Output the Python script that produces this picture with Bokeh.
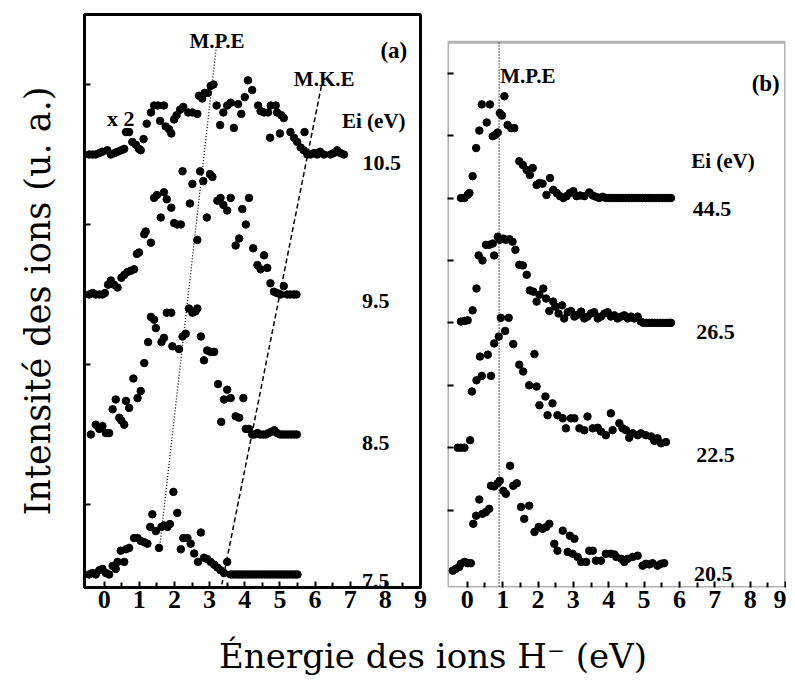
import numpy as np
from bokeh.plotting import figure
from bokeh.models import Range1d, FixedTicker, Label, BoxAnnotation
from bokeh.layouts import row, column
from bokeh.embed import file_html
from bokeh.resources import INLINE

# ---------------- data ----------------
# ion energy (eV) and intensity above each curve's own baseline (arb. units)
# Panel (a): Ei = 10.5 (x2), 9.5, 8.5, 7.5 eV
a105_x = [-0.43, -0.33, -0.24, -0.14, -0.05, 0.09, 0.19, 0.30, 0.38, 0.49,
          0.57, 0.62, 0.71, 0.80, 0.90, 0.99, 1.04, 1.12, 1.21, 1.33,
          1.42, 1.53, 1.59, 1.70, 1.75, 1.85, 1.91, 1.99, 2.06, 2.16,
          2.25, 2.39, 2.51, 2.65, 2.70, 2.79, 2.86, 2.95, 3.03, 3.11,
          3.20, 3.30, 3.39, 3.50, 3.60, 3.69, 3.81, 3.90, 4.00, 4.09,
          4.21, 4.38, 4.45, 4.55, 4.66, 4.72, 4.74, 4.88, 4.92, 5.00,
          5.04, 5.11, 5.30, 5.40, 5.49, 5.59, 5.68, 5.70, 5.78, 5.87,
          5.97, 6.06, 6.14, 6.25, 6.44, 6.53, 6.63, 6.72, 6.82]
a105_y = [0.00, 0.00, 0.00, 0.01, 0.02, 0.03, 0.00, 0.01, 0.02, 0.03,
          0.04, 0.16, 0.16, 0.09, 0.07, 0.04, 0.03, 0.11, 0.22, 0.30,
          0.35, 0.35, 0.24, 0.35, 0.20, 0.18, 0.15, 0.25, 0.28, 0.32,
          0.34, 0.30, 0.30, 0.29, 0.42, 0.40, 0.44, 0.44, 0.49, 0.50,
          0.35, 0.21, 0.30, 0.35, 0.37, 0.19, 0.36, 0.29, 0.41, 0.53,
          0.46, 0.35, 0.31, 0.30, 0.30, 0.12, 0.35, 0.35, 0.30, 0.15,
          0.28, 0.26, 0.16, 0.12, 0.09, 0.05, 0.03, 0.16, 0.00, 0.00,
          0.01, 0.00, 0.02, 0.00, 0.00, 0.01, 0.03, 0.01, 0.00]

a95_x = [-0.43, -0.33, -0.24, -0.14, -0.05, 0.02, 0.11, 0.19, 0.28, 0.38,
         0.49, 0.57, 0.66, 0.76, 0.85, 0.93, 0.99, 1.14, 1.18, 1.33,
         1.42, 1.50, 1.61, 1.70, 1.78, 1.91, 1.99, 2.08, 2.18, 2.23,
         2.44, 2.51, 2.65, 2.73, 2.82, 2.92, 3.01, 3.08, 3.22, 3.31,
         3.39, 3.50, 3.60, 3.74, 3.84, 3.93, 4.03, 4.12, 4.24, 4.36,
         4.45, 4.55, 4.64, 4.73, 4.83, 4.92, 5.02, 5.11, 5.21, 5.30,
         5.40, 5.47]
a95_y = [0.00, 0.01, 0.00, 0.00, 0.00, 0.01, 0.07, 0.10, 0.07, 0.05,
         0.12, 0.14, 0.16, 0.17, 0.18, 0.29, 0.30, 0.43, 0.45, 0.37,
         0.69, 0.71, 0.55, 0.73, 0.68, 0.62, 0.51, 0.50, 0.50, 0.88,
         0.65, 0.79, 0.39, 0.88, 0.81, 0.55, 0.86, 0.84, 0.67, 0.69,
         0.64, 0.60, 0.69, 0.35, 0.40, 0.61, 0.50, 0.69, 0.33, 0.21,
         0.18, 0.28, 0.19, 0.08, 0.02, 0.01, 0.00, 0.06, 0.00, 0.00,
         0.00, 0.00]

a85_x = [-0.38, -0.24, -0.14, -0.05, 0.05, 0.14, 0.24, 0.33, 0.43, 0.49,
         0.57, 0.62, 0.71, 0.83, 0.95, 1.04, 1.14, 1.25, 1.33, 1.42,
         1.47, 1.63, 1.70, 1.78, 1.91, 1.94, 2.13, 2.23, 2.32, 2.41,
         2.51, 2.60, 2.65, 2.75, 2.84, 2.93, 3.03, 3.13, 3.24, 3.33,
         3.41, 3.50, 3.60, 3.74, 3.84, 3.96, 4.03, 4.12, 4.21, 4.28,
         4.36, 4.44, 4.52, 4.60, 4.68, 4.76, 4.84, 4.92, 5.00, 5.08,
         5.16, 5.24, 5.32, 5.40, 5.48]
a85_y = [0.00, 0.07, 0.04, 0.06, 0.01, 0.01, 0.18, 0.25, 0.12, 0.10,
         0.07, 0.24, 0.19, 0.40, 0.26, 0.31, 0.51, 0.66, 0.84, 0.82,
         0.76, 0.66, 0.69, 0.87, 0.87, 0.63, 0.61, 0.70, 0.72, 0.90,
         0.87, 0.88, 0.90, 0.70, 0.53, 0.60, 0.59, 0.59, 0.36, 0.09,
         0.25, 0.32, 0.26, 0.13, 0.12, 0.26, 0.04, 0.04, 0.00, 0.00,
         0.01, 0.00, 0.00, 0.00, 0.01, 0.02, 0.03, 0.01, 0.00, 0.00,
         0.00, 0.00, 0.00, 0.00, 0.00]

a75_x = [-0.43, -0.33, -0.24, -0.14, -0.05, 0.05, 0.14, 0.24, 0.33, 0.38,
         0.47, 0.57, 0.62, 0.71, 0.85, 0.95, 1.04, 1.14, 1.23, 1.31,
         1.37, 1.47, 1.56, 1.63, 1.70, 1.80, 1.87, 1.97, 2.08, 2.18,
         2.25, 2.37, 2.46, 2.56, 2.67, 2.75, 2.84, 2.93, 3.03, 3.13,
         3.22, 3.31, 3.41, 3.50, 3.60, 3.68, 3.76, 3.84, 3.92, 4.00,
         4.08, 4.16, 4.24, 4.32, 4.40, 4.48, 4.56, 4.64, 4.72, 4.80,
         4.88, 4.96, 5.04, 5.12, 5.20, 5.28, 5.36, 5.44, 5.50]
a75_y = [0.00, 0.01, 0.00, 0.03, 0.04, 0.01, 0.00, 0.06, 0.04, 0.09,
         0.17, 0.09, 0.18, 0.19, 0.26, 0.26, 0.24, 0.23, 0.22, 0.34,
         0.43, 0.31, 0.19, 0.34, 0.35, 0.34, 0.36, 0.59, 0.44, 0.18,
         0.26, 0.26, 0.22, 0.15, 0.09, 0.30, 0.12, 0.11, 0.09, 0.07,
         0.05, 0.03, 0.01, 0.09, 0.00, 0.00, 0.00, 0.00, 0.00, 0.00,
         0.00, 0.00, 0.00, 0.00, 0.00, 0.00, 0.00, 0.00, 0.00, 0.00,
         0.00, 0.00, 0.00, 0.00, 0.00, 0.00, 0.00, 0.00, 0.00]

# Panel (b): Ei = 44.5, 26.5, 22.5, 20.5 eV
b445_x = [-0.18, -0.08, 0.01, 0.06, 0.15, 0.25, 0.34, 0.41, 0.55, 0.64,
          0.72, 0.79, 0.86, 0.92, 0.98, 1.05, 1.14, 1.24, 1.33, 1.47,
          1.57, 1.68, 1.77, 1.85, 1.96, 2.04, 2.13, 2.24, 2.34, 2.43,
          2.53, 2.62, 2.72, 2.81, 2.90, 3.00, 3.09, 3.19, 3.31, 3.45,
          3.55, 3.64, 3.73, 3.83, 3.92, 4.00, 4.08, 4.16, 4.24, 4.32,
          4.40, 4.48, 4.56, 4.64, 4.72, 4.80, 4.88, 4.96, 5.04, 5.12,
          5.20, 5.28, 5.36, 5.44, 5.52, 5.60, 5.68, 5.76]
b445_y = [0.00, 0.00, 0.05, 0.08, 0.35, 0.80, 1.08, 1.50, 1.21, 1.50,
          0.99, 1.01, 1.05, 1.36, 1.32, 1.63, 1.17, 1.12, 1.12, 0.59,
          0.53, 0.45, 0.37, 0.48, 0.21, 0.24, 0.23, 0.05, 0.32, 0.13,
          0.08, 0.03, 0.00, 0.03, 0.08, 0.11, 0.03, 0.04, 0.03, 0.09,
          0.04, 0.02, 0.00, 0.02, 0.00, 0.00, 0.00, 0.00, 0.00, 0.00,
          0.00, 0.00, 0.00, 0.00, 0.00, 0.00, 0.00, 0.00, 0.00, 0.00,
          0.00, 0.00, 0.00, 0.00, 0.00, 0.00, 0.00, 0.00]

b265_x = [-0.18, -0.08, 0.01, 0.15, 0.26, 0.32, 0.43, 0.53, 0.62, 0.72,
          0.76, 0.86, 0.92, 1.02, 1.09, 1.19, 1.28, 1.36, 1.47, 1.57,
          1.68, 1.77, 1.87, 1.96, 2.04, 2.15, 2.23, 2.32, 2.43, 2.49,
          2.58, 2.68, 2.74, 2.84, 2.93, 3.03, 3.12, 3.22, 3.31, 3.40,
          3.50, 3.59, 3.69, 3.78, 3.88, 3.97, 4.06, 4.16, 4.25, 4.35,
          4.44, 4.54, 4.63, 4.72, 4.82, 4.91, 4.98, 5.06, 5.14, 5.22,
          5.30, 5.38, 5.46, 5.54, 5.62, 5.70, 5.76]
b265_y = [0.02, 0.03, 0.04, 0.20, 0.55, 1.08, 1.00, 1.25, 1.25, 1.27,
          1.08, 1.38, 1.33, 1.35, 1.33, 1.34, 1.30, 1.17, 0.93, 0.92,
          0.77, 0.52, 0.50, 0.34, 0.45, 0.55, 0.39, 0.19, 0.34, 0.26,
          0.15, 0.28, 0.07, 0.17, 0.19, 0.10, 0.13, 0.18, 0.07, 0.10,
          0.15, 0.17, 0.07, 0.10, 0.15, 0.17, 0.10, 0.12, 0.07, 0.10,
          0.12, 0.07, 0.10, 0.07, 0.10, 0.02, 0.00, 0.00, 0.00, 0.00,
          0.00, 0.00, 0.00, 0.00, 0.00, 0.00, 0.00]

b225_x = [-0.27, -0.18, -0.08, 0.08, 0.13, 0.26, 0.36, 0.41, 0.58, 0.67,
          0.76, 0.89, 0.95, 1.07, 1.17, 1.30, 1.47, 1.58, 1.75, 1.90,
          1.96, 2.04, 2.21, 2.27, 2.41, 2.55, 2.70, 2.79, 2.93, 3.03,
          3.17, 3.31, 3.40, 3.55, 3.69, 3.78, 3.92, 4.06, 4.11, 4.30,
          4.39, 4.49, 4.58, 4.68, 4.82, 4.91, 5.05, 5.20, 5.29, 5.38,
          5.48, 5.62]
b225_y = [0.00, 0.00, 0.00, 0.12, 0.90, 1.08, 1.46, 1.15, 1.49, 1.15,
          1.67, 1.78, 2.08, 1.87, 2.08, 1.66, 1.33, 1.22, 1.00, 1.50,
          0.98, 0.68, 0.82, 0.52, 0.71, 0.52, 0.47, 0.31, 0.47, 0.47,
          0.31, 0.28, 0.50, 0.31, 0.32, 0.26, 0.20, 0.55, 0.28, 0.39,
          0.31, 0.28, 0.16, 0.23, 0.20, 0.23, 0.20, 0.18, 0.11, 0.15,
          0.07, 0.09]

b205_x = [-0.41, -0.32, -0.23, -0.18, -0.08, 0.01, 0.10, 0.17, 0.25, 0.34,
          0.43, 0.53, 0.62, 0.67, 0.76, 0.86, 0.92, 1.02, 1.09, 1.21,
          1.30, 1.40, 1.52, 1.61, 1.75, 1.90, 2.02, 2.13, 2.23, 2.32,
          2.46, 2.55, 2.70, 2.84, 2.90, 2.98, 3.03, 3.12, 3.22, 3.36,
          3.45, 3.55, 3.64, 3.78, 3.92, 4.06, 4.16, 4.21, 4.35, 4.44,
          4.54, 4.68, 4.82, 4.96, 5.05, 5.15, 5.24, 5.38, 5.48, 5.57]
b205_y = [0.03, 0.06, 0.09, 0.14, 0.17, 0.15, 0.15, 0.78, 0.91, 1.17,
          0.94, 0.97, 1.02, 1.39, 1.38, 1.43, 1.47, 1.31, 1.26, 1.71,
          1.39, 1.43, 1.05, 0.86, 1.07, 0.65, 0.73, 0.70, 0.73, 0.78,
          0.46, 0.35, 0.67, 0.33, 0.59, 0.30, 0.54, 0.25, 0.17, 0.17,
          0.35, 0.35, 0.19, 0.19, 0.30, 0.30, 0.29, 0.25, 0.22, 0.17,
          0.22, 0.25, 0.27, 0.11, 0.14, 0.13, 0.15, 0.11, 0.14, 0.15]

# baselines (vertical offsets) of the stacked curves
a_curves = [(a105_x, a105_y, 3.5), (a95_x, a95_y, 2.5), (a85_x, a85_y, 1.5), (a75_x, a75_y, 0.5)]
b_curves = [(b445_x, b445_y, 6.0), (b265_x, b265_y, 4.0), (b225_x, b225_y, 2.0), (b205_x, b205_y, 0.0)]

# guide lines (M.P.E / M.K.E)
mpe_a_x = [3.19, 1.59]
mpe_a_y = [4.27, 0.72]
mke_a_x = [6.18, 3.35]
mke_a_y = [3.99, 0.43]
mpe_b_x = [0.9, 0.9]
mpe_b_y = [8.49, -0.24]

x_ticks = [0, 1, 2, 3, 4, 5, 6, 7, 8, 9]
x_minor = [0.5, 1.5, 2.5, 3.5, 4.5, 5.5, 6.5, 7.5, 8.5]
a_yticks = [1, 2, 3, 4]
b_yticks = [1, 2, 3, 4, 5, 6, 7, 8]

SERIF_B = "Liberation Serif"
X_RANGE = (-0.56, 9.0)


def make_panel(width, height, bl, bt, br, bb, yr, yticks):
    p = figure(width=width, height=height, x_range=Range1d(*X_RANGE),
               y_range=Range1d(*yr), output_backend="svg", toolbar_location=None,
               tools="", min_border_left=bl, min_border_top=bt,
               min_border_right=br, min_border_bottom=bb)
    p.grid.visible = False
    p.background_fill_color = "white"
    p.border_fill_color = "white"
    p.outline_line_color = "black"
    p.outline_line_width = 3
    ax = p.xaxis[0]
    ax.ticker = FixedTicker(ticks=x_ticks, minor_ticks=x_minor)
    ax.axis_line_width = 3
    ax.major_tick_in = 6
    ax.major_tick_out = 0
    ax.minor_tick_in = 5
    ax.minor_tick_out = 0
    ax.major_tick_line_width = 2
    ax.minor_tick_line_width = 2
    ax.major_label_text_font = SERIF_B
    ax.major_label_text_font_style = "bold"
    ax.major_label_text_font_size = "26px"
    ax.major_label_text_color = "black"
    ax.major_label_standoff = 3
    ay = p.yaxis[0]
    ay.ticker = FixedTicker(ticks=yticks)
    ay.axis_line_width = 3
    ay.major_tick_in = 6
    ay.major_tick_out = 0
    ay.major_tick_line_width = 2
    ay.minor_tick_line_color = None
    ay.major_label_overrides = {t: "" for t in yticks}
    ay.major_label_standoff = 0
    return p


def add_text(p, text, x, y, align="center", size="22px"):
    p.add_layout(Label(x=x, y=y, text=text, text_align=align,
                       text_baseline="alphabetic", text_font=SERIF_B,
                       text_font_style="bold", text_font_size=size,
                       text_color="black"))


H = 623
BT, BB = 14, 36

# ---------------- panel (a) ----------------
pa = make_panel(429, H, 84, BT, 9, BB, (0.407, 4.5), a_yticks)
pa.yaxis[0].axis_label = "Intensité des ions (u. a.)"
pa.yaxis[0].axis_label_text_font = "DejaVu Serif"
pa.yaxis[0].axis_label_text_font_style = "normal"
pa.yaxis[0].axis_label_text_font_size = "35px"
pa.yaxis[0].axis_label_text_color = "black"
pa.yaxis[0].axis_label_standoff = 27

pa.line(mpe_a_x, mpe_a_y, line_color="black", line_width=1.3, line_dash="1 2")
pa.line(mke_a_x, mke_a_y, line_color="black", line_width=1.5, line_dash="5 3")
for xs, ys, base in a_curves:
    pa.scatter(xs, np.array(ys) + base, size=7.5, marker="circle",
               fill_color="black", line_color="black")

add_text(pa, "M.P.E", 3.21, 4.31, size="21px")
add_text(pa, "M.K.E", 6.26, 4.04, size="21px")
add_text(pa, "(a)", 8.24, 4.24, size="23px")
add_text(pa, "x 2", 0.47, 3.76, size="22px")
add_text(pa, "Ei (eV)", 7.67, 3.74, size="21px")
add_text(pa, "10.5", 7.90, 3.44)
add_text(pa, "9.5", 7.73, 2.45)
add_text(pa, "8.5", 7.73, 1.44)
add_text(pa, "7.5", 7.73, 0.45)

# ---------------- panel (b) ----------------
# frame shares panel (a)'s vertical extent; the visible box of (b) starts lower
B_YR = (-0.24, 8.94)
B_BOX_TOP = 8.494
pb = make_panel(357, H, 18, BT, 1, BB, B_YR, b_yticks)
pb.outline_line_color = None
pb.xaxis[0].axis_line_color = None
pb.yaxis[0].axis_line_color = None
pb.add_layout(BoxAnnotation(left=X_RANGE[0], right=X_RANGE[1], bottom=B_YR[0],
                            top=B_BOX_TOP, fill_color=None, fill_alpha=0,
                            line_color="black", line_width=3))
pb.line(mpe_b_x, mpe_b_y, line_color="black", line_width=1.3, line_dash="1 2")
for xs, ys, base in b_curves:
    pb.scatter(xs, np.array(ys) + base, size=7.5, marker="circle",
               fill_color="black", line_color="black")

add_text(pb, "M.P.E", 0.93, 7.95, align="left", size="21px")
add_text(pb, "(b)", 8.44, 7.84, size="23px")
add_text(pb, "Ei (eV)", 7.23, 6.59, size="21px")
add_text(pb, "44.5", 6.92, 5.82)
add_text(pb, "26.5", 7.02, 3.86)
add_text(pb, "22.5", 7.02, 1.89)
add_text(pb, "20.5", 6.96, -0.02)

# ---------------- common x label ----------------
pl = figure(width=786, height=52, x_range=Range1d(0, 786), y_range=Range1d(0, 52),
            output_backend="svg", toolbar_location=None, tools="", title=None,
            x_axis_type=None, y_axis_type=None, min_border=0)
pl.grid.visible = False
pl.outline_line_color = None
pl.background_fill_color = "white"
pl.border_fill_color = "white"
pl.add_layout(Label(x=432.5, y=20, text="Énergie des ions H⁻ (eV)",
                    text_align="center", text_baseline="alphabetic",
                    text_font="DejaVu Serif", text_font_size="34px",
                    text_color="black"))

layout = column(row(pa, pb), pl)
open("out.html", "w").write(file_html(layout, INLINE))
